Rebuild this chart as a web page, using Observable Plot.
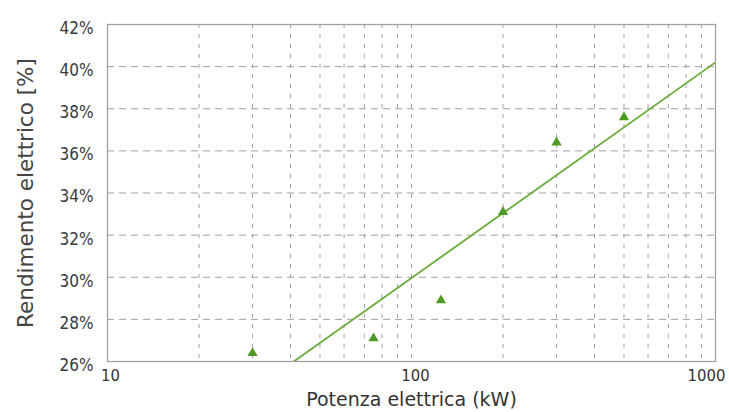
<!DOCTYPE html>
<html>
<head>
<meta charset="utf-8">
<script src="https://cdn.jsdelivr.net/npm/d3@7"></script>
<script src="https://cdn.jsdelivr.net/npm/@observablehq/plot@0.6"></script>
<style>
  html, body { margin: 0; padding: 0; background: #fff; }
  #chart svg { display: block; }
</style>
</head>
<body>
<div id="chart"></div>
<script>
// Data
const potenza = [30, 75, 125, 200, 300, 500];              // kW
const rendimento = [26.4, 27.1, 28.9, 33.1, 36.4, 37.6];   // %
const trendPotenza = [41, 1000];
const trendRendimento = [26, 40.2];
const xGridValues = [20, 30, 40, 50, 60, 70, 80, 90, 100, 200, 300, 400, 500, 600, 700, 800, 900];
const yTickValues = [26, 28, 30, 32, 34, 36, 38, 40, 42];
const yGridValues = [28, 30, 32, 34, 36, 38, 40];

const points = potenza.map((p, i) => ({p, r: rendimento[i]}));
const trend = trendPotenza.map((p, i) => ({p, r: trendRendimento[i]}));

const gridColor = "#a0a0a0";
const condensed = "'DejaVu Sans Condensed', 'DejaVu Sans', sans-serif";
const regular = "'DejaVu Sans', sans-serif";

const xTick = (v, dx) => Plot.axisX([v], {
  tickSize: 0, tickPadding: 8, fontSize: 16.5, fill: "#333", dx,
  fontFamily: condensed, tickFormat: d => String(d), label: null
});

const chart = Plot.plot({
  width: 729,
  height: 412,
  marginLeft: 107,
  marginRight: 14,
  marginTop: 24,
  marginBottom: 51,
  style: {fontFamily: condensed, fontSize: "14px", color: "#333", background: "#fff"},
  x: {type: "log", domain: [10, 1000]},
  y: {domain: [26, 42]},
  marks: [
    Plot.ruleX(xGridValues, {stroke: gridColor, strokeWidth: 1, strokeDasharray: "4,6"}),
    Plot.ruleY(yGridValues, {stroke: gridColor, strokeWidth: 1, strokeDasharray: "7,5"}),
    Plot.frame({stroke: "#a0a0a0", strokeWidth: 1.3}),
    Plot.line(trend, {x: "p", y: "r", stroke: "#6aac3c", strokeWidth: 1.8, clip: true}),
    Plot.dot(points, {x: "p", y: "r", symbol: "triangle", r: 3.8, fill: "#4f9a22", stroke: "none"}),
    Plot.axisY(yTickValues, {
      tickSize: 0, tickPadding: 14, fontSize: 17, fill: "#3a3a3a", dy: 4,
      fontFamily: condensed, tickFormat: d => d + "%", label: null
    }),
    xTick(10, 3),
    xTick(100, 4),
    xTick(1000, -9),
    Plot.text(["Rendimento elettrico [%]"], {
      frameAnchor: "left", textAnchor: "middle", dx: -81, rotate: -90,
      fontSize: 21.5, fill: "#444", fontFamily: regular, text: d => d
    }),
    Plot.text(["Potenza elettrica (kW)"], {
      frameAnchor: "bottom", textAnchor: "middle", dy: 44,
      fontSize: 19, fill: "#333", fontFamily: regular, text: d => d
    })
  ]
});
document.getElementById("chart").appendChild(chart);
</script>
</body>
</html>
